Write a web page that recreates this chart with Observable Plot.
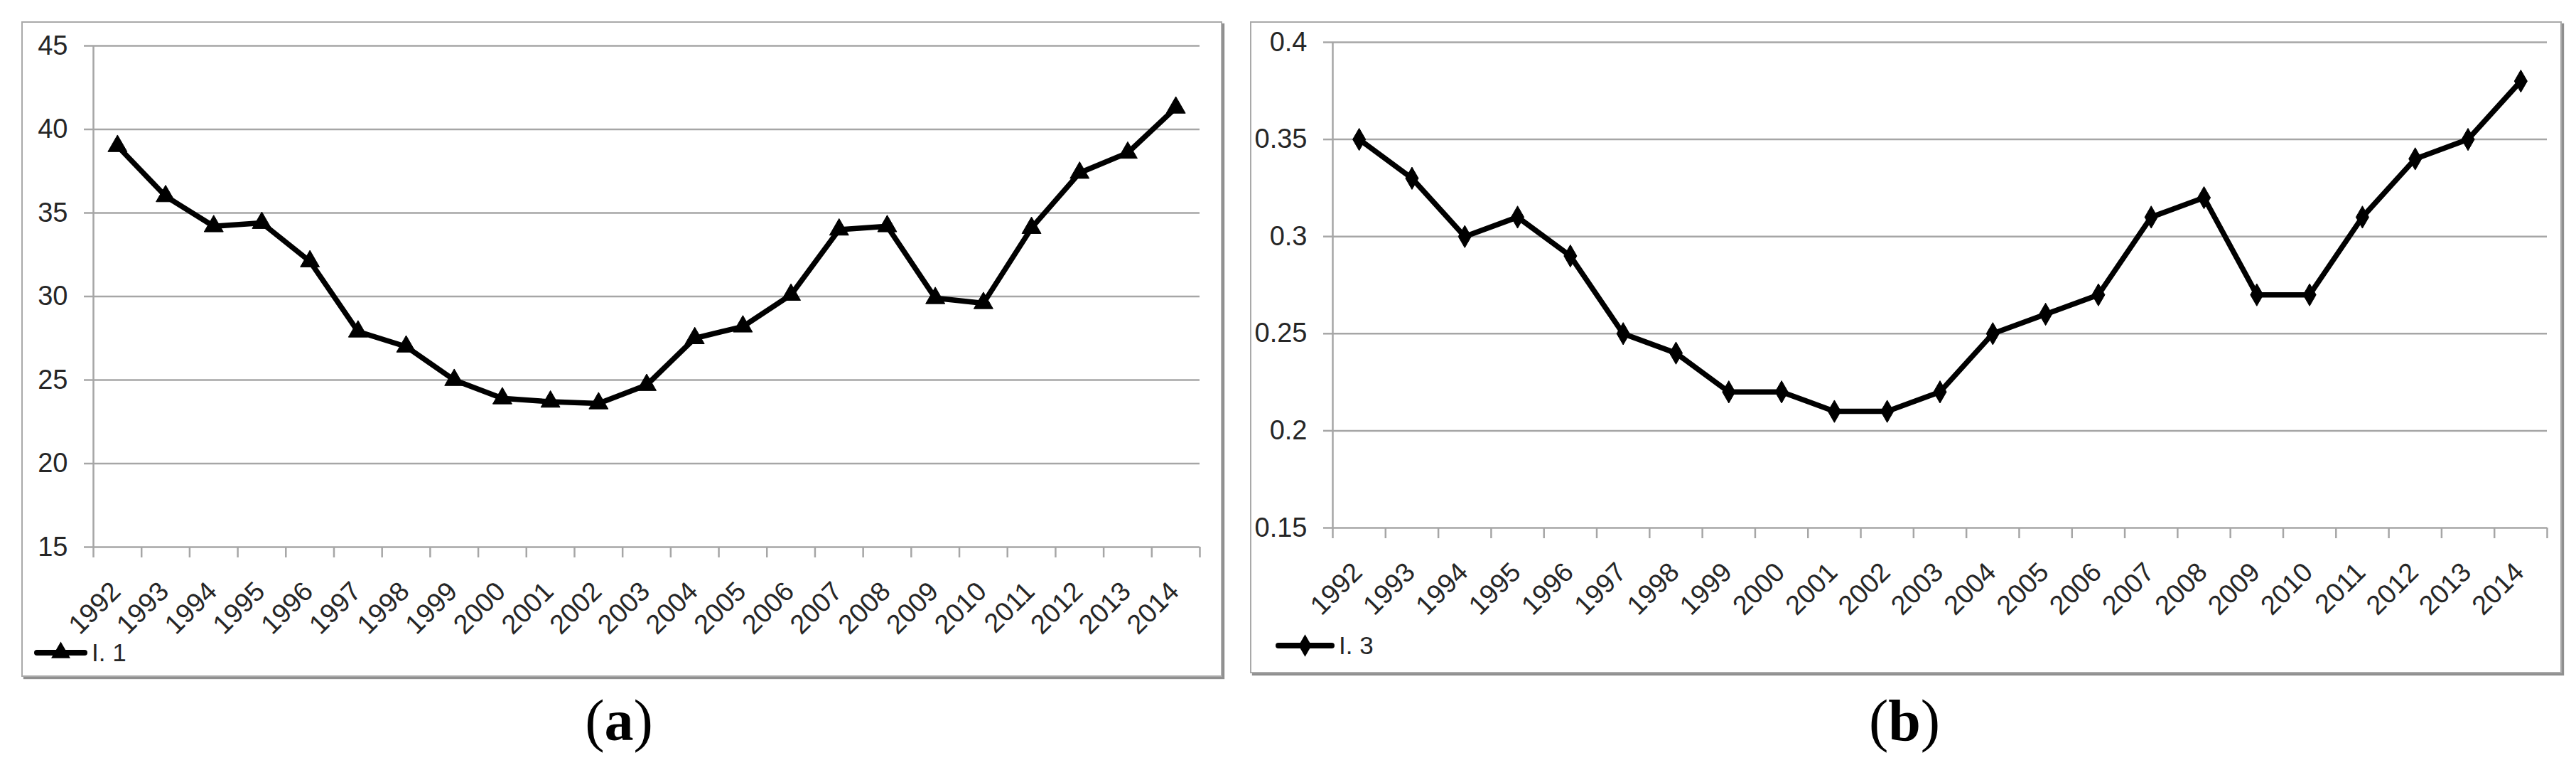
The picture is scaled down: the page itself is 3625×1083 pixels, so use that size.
<!DOCTYPE html>
<html>
<head>
<meta charset="utf-8">
<script src="https://cdn.jsdelivr.net/npm/d3@7"></script>
<script src="https://cdn.jsdelivr.net/npm/@observablehq/plot@0.6"></script>
<style>
  html, body { margin: 0; padding: 0; background: #fff; }
  body { width: 3625px; height: 1083px; position: relative; overflow: hidden; }
  .frame { position: absolute; box-sizing: border-box; border: 2px solid #a9a9a9; box-shadow: 3px 3px 1px #8f8f8f; background: #fff; }
  .frame > svg { position: absolute; left: 0; top: 0; }
  .legend { position: absolute; display: flex; align-items: center; height: 40px; font-size: 35px; color: #262626; white-space: nowrap; }
  .legend svg { display: block; margin-right: 6px; }
  .caption { position: absolute; font-family: "Liberation Serif", "Times New Roman", serif; font-size: 82px; line-height: 82px; color: #000; transform: translateX(-50%); white-space: nowrap; }
</style>
</head>
<body>
<script>
// ---------- data ----------
const years = [1992, 1993, 1994, 1995, 1996, 1997, 1998, 1999, 2000, 2001, 2002, 2003,
               2004, 2005, 2006, 2007, 2008, 2009, 2010, 2011, 2012, 2013, 2014];
const seriesI1 = [39.0, 36.0, 34.2, 34.4, 32.1, 27.9, 27.0, 25.0, 23.9, 23.7, 23.6, 24.7,
                  27.5, 28.2, 30.1, 34.0, 34.2, 29.9, 29.6, 34.1, 37.4, 38.6, 41.3];
const seriesI3 = [0.35, 0.33, 0.30, 0.31, 0.29, 0.25, 0.24, 0.22, 0.22, 0.21, 0.21, 0.22,
                  0.25, 0.26, 0.27, 0.31, 0.32, 0.27, 0.27, 0.31, 0.34, 0.35, 0.38];
const yTicksA = [15, 20, 25, 30, 35, 40, 45];
const yTicksB = [0.15, 0.2, 0.25, 0.3, 0.35, 0.4];
const legendNameA = "I. 1";
const legendNameB = "I. 3";
const captionA = "a";
const captionB = "b";

// ---------- layout / style ----------
const FONT = '"Liberation Sans Narrow", "Liberation Sans", Arial, sans-serif';
const GRID = "#a6a6a6";
const TEXT = "#262626";
const BORDER = 2;

const panels = [
  { values: seriesI1, yTicks: yTicksA, symbol: "triangle", r: 10, legend: legendNameA, caption: captionA,
    frame: { l: 30, t: 30, r: 1720, b: 952 }, plot: { l: 131, r: 1688, t: 64, b: 769 },
    legendPos: { x: 48, y: 918, w: 75 }, captionPos: { x: 871, y: 973 } },
  { values: seriesI3, yTicks: yTicksB, symbol: "diamond", r: 9.5, legend: legendNameB, caption: captionB,
    frame: { l: 1759, t: 30, r: 3605, b: 947 }, plot: { l: 1875, r: 3584, t: 59, b: 742 },
    legendPos: { x: 1795, y: 908, w: 83 }, captionPos: { x: 2680, y: 973 } }
];

function symbolFor(name) { return name === "triangle" ? d3.symbolTriangle : d3.symbolDiamond; }

for (const p of panels) {
  const f = p.frame;
  const frame = document.createElement("div");
  frame.className = "frame";
  Object.assign(frame.style, { left: f.l + "px", top: f.t + "px", width: (f.r - f.l) + "px", height: (f.b - f.t) + "px" });
  document.body.appendChild(frame);

  const ox = f.l + BORDER, oy = f.t + BORDER;
  const W = f.r - f.l - 2 * BORDER, H = f.b - f.t - 2 * BORDER;
  const data = years.map((year, i) => ({ year, value: p.values[i] }));
  const bounds = years.map(y => y - 0.5).concat([years[years.length - 1] + 0.5]);

  const chart = Plot.plot({
    width: W, height: H,
    marginLeft: p.plot.l - ox, marginRight: ox + W - p.plot.r,
    marginTop: p.plot.t - oy, marginBottom: oy + H - p.plot.b,
    style: { fontFamily: FONT, fontSize: "38px", color: TEXT, background: "transparent", overflow: "visible" },
    x: { type: "linear", domain: [bounds[0], bounds[bounds.length - 1]] },
    y: { domain: [p.yTicks[0], p.yTicks[p.yTicks.length - 1]] },
    marks: [
      Plot.gridY(p.yTicks, { stroke: GRID, strokeOpacity: 1, strokeWidth: 2.5 }),
      Plot.axisY(p.yTicks, { tickSize: 13, tickPadding: 23, stroke: GRID, strokeWidth: 2.5, tickFormat: d => String(d), label: null, fontSize: 38 }),
      Plot.ruleX([bounds[0]], { stroke: GRID, strokeWidth: 2.5 }),
      Plot.axisX(bounds, { tickSize: 15, stroke: GRID, strokeWidth: 2.5, tickFormat: () => "", label: null }),
      Plot.text(years, { x: d => d, text: d => String(d), frameAnchor: "bottom", rotate: -45, textAnchor: "end",
                         lineAnchor: "middle", dy: 56, dx: -2, fontSize: 38, fill: TEXT }),
      Plot.line(data, { x: "year", y: "value", stroke: "#000", strokeWidth: 7.5, strokeLinejoin: "round" }),
      Plot.dot(data, { x: "year", y: "value", symbol: p.symbol, r: p.r, fill: "#000", stroke: "#000", strokeWidth: 1 })
    ]
  });
  frame.appendChild(chart);

  // legend (inside frame, bottom-left)
  const lg = document.createElement("div");
  lg.className = "legend";
  lg.style.fontFamily = FONT;
  Object.assign(lg.style, { left: (p.legendPos.x - ox) + "px", top: (p.legendPos.y - oy - 20) + "px" });
  const sw = d3.create("svg").attr("width", p.legendPos.w).attr("height", 34);
  sw.append("line").attr("x1", 4).attr("x2", p.legendPos.w - 4).attr("y1", 17).attr("y2", 17)
    .attr("stroke", "#000").attr("stroke-width", 8).attr("stroke-linecap", "round");
  sw.append("path").attr("d", d3.symbol(symbolFor(p.symbol), Math.PI * p.r * p.r)())
    .attr("transform", `translate(${p.legendPos.w / 2},17)`).attr("fill", "#000");
  lg.appendChild(sw.node());
  const lt = document.createElement("span");
  lt.textContent = p.legend;
  lg.appendChild(lt);
  frame.appendChild(lg);

  // caption below the panel
  const cap = document.createElement("div");
  cap.className = "caption";
  Object.assign(cap.style, { left: p.captionPos.x + "px", top: p.captionPos.y + "px" });
  cap.innerHTML = "(<b>" + p.caption + "</b>)";
  document.body.appendChild(cap);
}
</script>
</body>
</html>
